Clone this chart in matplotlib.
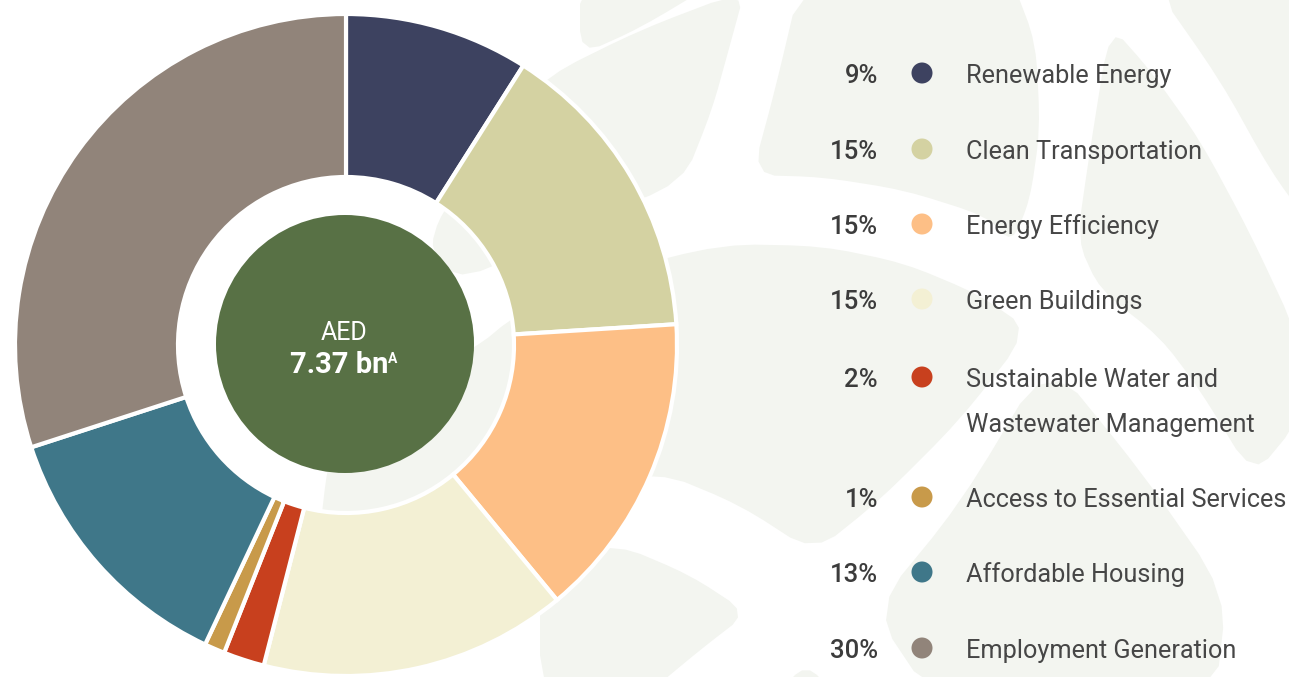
import matplotlib
matplotlib.use("Agg")
import matplotlib.pyplot as plt
from matplotlib.patches import Circle, Polygon
import numpy as np

# ---- data ----
categories = ["Renewable Energy", "Clean Transportation", "Energy Efficiency",
              "Green Buildings", "Sustainable Water and\nWastewater Management",
              "Access to Essential Services", "Affordable Housing",
              "Employment Generation"]
shares = [9, 15, 15, 15, 2, 1, 13, 30]
pct_labels = ["9%", "15%", "15%", "15%", "2%", "1%", "13%", "30%"]
colors = ["#3d4260", "#d4d2a2", "#fdbf86", "#f3f0d4", "#c8401e",
          "#c89a4a", "#3f7789", "#91847a"]
total_label = "7.37 bn"
currency = "AED"

W, H = 1289, 677
fig = plt.figure(figsize=(W / 100, H / 100), dpi=100)
fig.patch.set_facecolor("white")
ax = fig.add_axes([0, 0, 1, 1])

FONT = "Roboto"
LIGHT = "#f3f5f0"


def chaikin(pts, n=1):
    p = np.asarray(pts, dtype=float)
    for _ in range(n):
        q = np.roll(p, -1, axis=0)
        a = 0.8 * p + 0.2 * q
        b = 0.2 * p + 0.8 * q
        p = np.empty((2 * len(a), 2))
        p[0::2] = a
        p[1::2] = b
    return p


# ---- decorative background leaves (pixel coords, y down) ----
leaves = [
    [(580, -20), (720, -20), (640, 28), (580, 55)],
    [(440, 215), (500, 130), (547, 76), (640, 30), (745, -10), (730, 45), (712, 110),
     (683, 183), (580, 222), (463, 282), (430, 250)],
    [(801, -20), (1012, -20), (1036, 43), (1040, 130), (1030, 200), (1012, 243),
     (986, 216), (904, 190), (822, 177), (752, 175), (775, 90)],
    [(1110, 25), (1150, 70), (1200, 140), (1250, 233), (1300, 340), (1300, 420),
     (1253, 477), (1200, 390), (1160, 337), (1100, 290), (1077, 240), (1090, 150)],
    [(1150, -20), (1310, -20), (1310, 225), (1270, 170), (1220, 80)],
    [(320, 530), (327, 470), (340, 420), (477, 347), (513, 317), (600, 275),
     (723, 244), (822, 246), (904, 263), (978, 294), (1030, 330), (960, 420),
     (880, 500), (814, 553), (740, 505), (658, 471), (500, 490)],
    [(540, 560), (617, 544), (690, 575), (748, 613), (700, 650), (640, 700), (540, 700)],
    [(772, 700), (806, 663), (840, 700)],
    [(1048, 357), (1140, 470), (1227, 594), (1215, 700), (933, 700), (873, 610), (960, 504)],
]
for pts in leaves:
    ax.add_patch(Polygon(chaikin(pts, 2), closed=True, facecolor=LIGHT,
                         edgecolor="none", zorder=0))

# ---- donut ----
cx, cy, R, width = 346, 345, 331, 163
wedges, _ = ax.pie(shares, colors=colors, startangle=-90, counterclock=True,
                   radius=R, center=(cx, cy),
                   wedgeprops=dict(width=width, edgecolor="white", linewidth=3))
for w in wedges:
    w.set_zorder(2)

ax.add_patch(Circle((cx - 1, cy - 1), 129, facecolor="#587145", edgecolor="none", zorder=3))
ax.text(cx - 2, cy - 5, currency, ha="center", va="baseline", color="white",
        fontsize=18, family=FONT, fontweight="normal", zorder=4)
ax.text(cx - 7, cy + 28, total_label, ha="center", va="baseline", color="white",
        fontsize=21, family=FONT, fontweight="bold", zorder=4)
ax.text(cx + 42, cy + 18, "A", ha="left", va="baseline", color="white",
        fontsize=10, family=FONT, fontweight="bold", zorder=4)

# ---- legend ----
row_y = [73, 149, 224, 299, 377, 497, 572, 648]
for yc, lab, pct, col in zip(row_y, categories, pct_labels, colors):
    ax.text(878, yc + 10, pct, ha="right", va="baseline", color="#3c3c3c",
            fontsize=18.5, family=FONT, fontweight="medium", zorder=4)
    ax.add_patch(Circle((922, yc), 10.5, facecolor=col, edgecolor="none", zorder=4))
    for i, line in enumerate(lab.split("\n")):
        ax.text(966, yc + 10 + i * 45, line, ha="left", va="baseline", color="#464646",
                fontsize=18.2, family=FONT, zorder=4)

ax.set_xlim(0, W)
ax.set_ylim(H, 0)
ax.set_aspect("equal")
ax.axis("off")

fig.savefig("out.png", dpi=100, facecolor="white")
